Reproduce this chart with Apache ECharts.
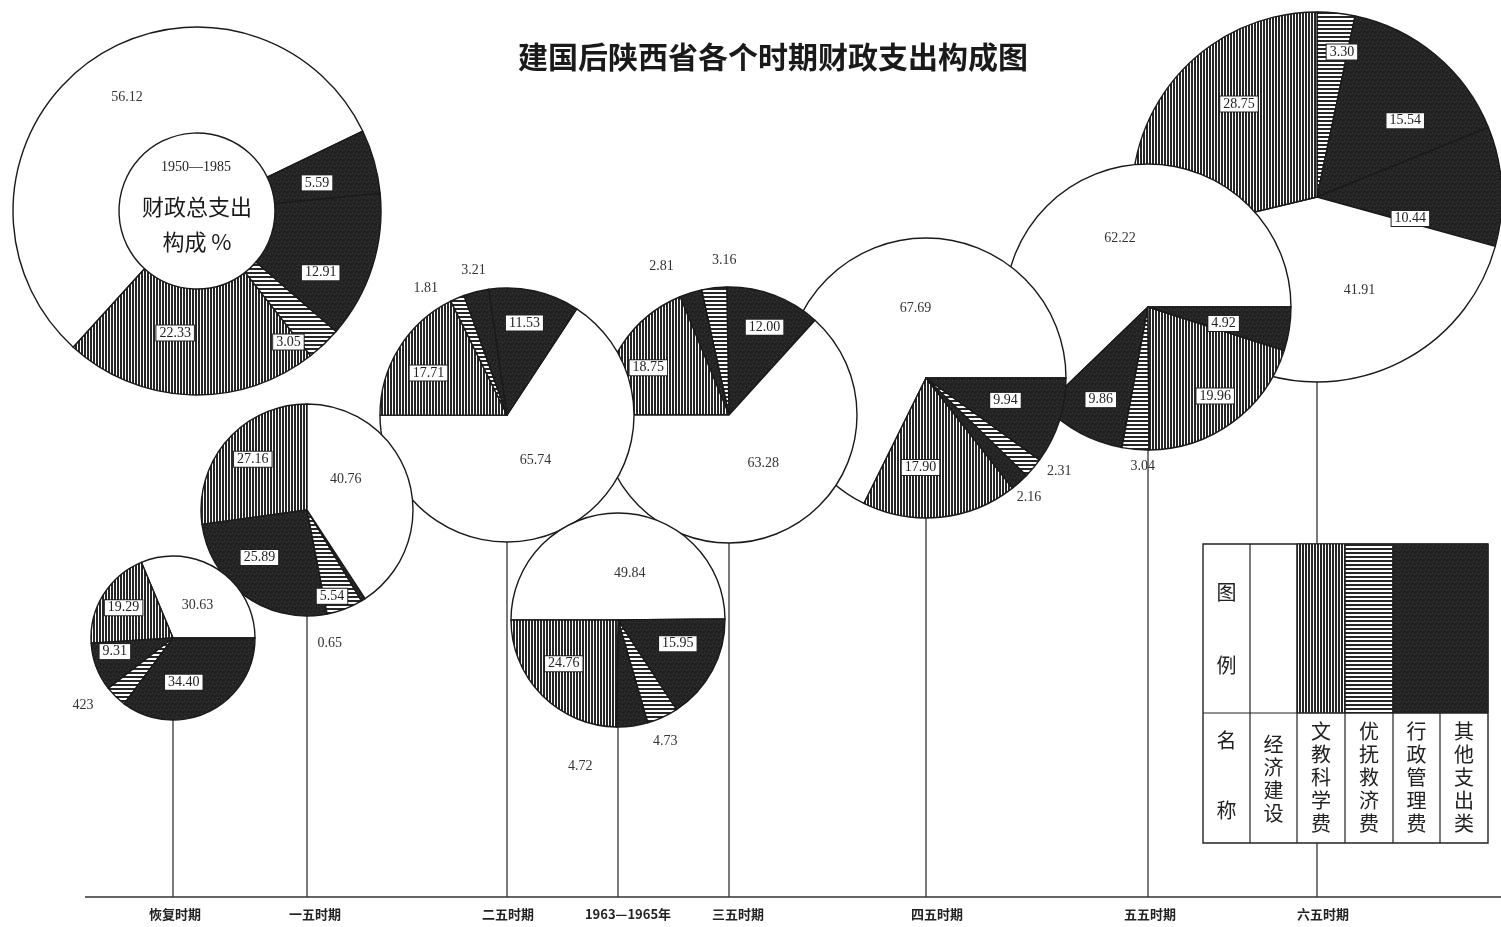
<!DOCTYPE html>
<html>
<head>
<meta charset="utf-8">
<script src="https://cdn.jsdelivr.net/npm/echarts@6/dist/echarts.min.js"></script>
<style>
html,body{margin:0;padding:0;background:#fff;}
#chart{width:1501px;height:927px;}
</style>
</head>
<body>
<div id="chart"></div>
<script>
// ---------------- DATA ----------------
const categories = ['经济建设', '文教科学费', '优抚救济费', '行政管理费', '其他支出类'];
const periods = ['恢复时期', '一五时期', '二五时期', '1963—1965年', '三五时期', '四五时期', '五五时期', '六五时期'];
// 1950—1985 total composition (%), in category order
const totalShare = [56.12, 22.33, 3.05, 12.91, 5.59];
// per-period composition (%), one array per category, in period order
const economic = [30.63, 40.76, 65.74, 49.84, 63.28, 67.69, 62.22, 41.91];
const education = [19.29, 27.16, 17.71, 24.76, 18.75, 17.90, 19.96, 28.75];
const relief = [4.23, 5.54, 1.81, 4.73, 3.16, 2.31, 3.04, 3.30];
const administration = [34.40, 25.89, 11.53, 15.95, 12.00, 9.94, 9.86, 15.54];
const otherSpending = [9.31, 0.65, 3.21, 4.72, 2.81, 2.16, 4.92, 10.44];
// label exactly as printed in the source figure
const printedLabel = { '恢复时期|优抚救济费': '423' };

// ---------------- LAYOUT (positions / drawing order / label nudges) ----------------
const pieLayout = {
  '恢复时期':    { c: [173, 638], r: 82,  start: 0,    cw: false, order: [0, 1, 4, 2, 3] },
  '一五时期':    { c: [307, 510], r: 106, start: 90,   cw: false, order: [1, 3, 2, 4, 0] },
  '二五时期':    { c: [507, 415], r: 127, start: 56.7, cw: true,  order: [0, 1, 2, 4, 3] },
  '1963—1965年': { c: [618, 620], r: 107, start: 180,  cw: true,  order: [0, 3, 2, 4, 1] },
  '三五时期':    { c: [729, 415], r: 128, start: 47.8, cw: false, order: [3, 2, 4, 1, 0] },
  '四五时期':    { c: [926, 378], r: 140, start: 0,    cw: false, order: [0, 1, 4, 2, 3] },
  '五五时期':    { c: [1148, 307], r: 143, start: 0,   cw: false, order: [0, 3, 2, 1, 4] },
  '六五时期':    { c: [1317, 197], r: 185, start: 90,  cw: true,  order: [2, 3, 4, 0, 1] }
};
// label nudges [dx, dy] by category index
const labelNudge = {
  '恢复时期':    { 0: [0, 4], 1: [-12, -7], 2: [-13, 4], 3: [-9, 5], 4: [-17, -2] },
  '一五时期':    { 0: [-15, -15], 1: [-12, -14], 2: [5, 34], 3: [-15, 2], 4: [-54, 38] },
  '二五时期':    { 0: [-3, -13], 1: [-22, -7], 2: [-12, -4], 3: [3, -27], 4: [16, -16] },
  '1963—1965年': { 0: [12, 10], 1: [-14, 4], 2: [-17, 19], 3: [10, -3], 4: [-70, 34] },
  '三五时期':    { 0: [7, -13], 1: [-25, -10], 2: [28, -22], 3: [12, -25], 4: [-10, -21] },
  '四五时期':    { 0: [28, -8], 1: [-13, 17], 2: [4, 0], 3: [10, 0], 4: [-12, 11] },
  '五五时期':    { 0: [0, 0], 1: [23, 29], 2: [25, 11], 3: [-12, 27], 4: [2, 5] },
  '六五时期':    { 0: [44, -2], 1: [-3, -34], 2: [15, -50], 3: [27, -3], 4: [-2, 27] },
  total:         { 0: [10, -6], 1: [-17, -12], 2: [-1, 34], 3: [-4, 21], 4: [-9, 8] }
};
const periodLabelX = { '恢复时期': 175, '一五时期': 315, '二五时期': 508, '1963—1965年': 628, '三五时期': 738, '四五时期': 937, '五五时期': 1150, '六五时期': 1323 };
const baselineY = 897;
// stacking order, bottom first
const drawOrder = ['六五时期', '五五时期', '四五时期', '三五时期', '二五时期', '1963—1965年', '一五时期', '恢复时期'];

// ---------------- FILL PATTERNS ----------------
function makeCanvas(w, h, fn) {
  const c = document.createElement('canvas');
  c.width = w; c.height = h;
  const ctx = c.getContext('2d');
  fn(ctx);
  return c;
}
const vertHatch = makeCanvas(3, 3, ctx => {
  ctx.fillStyle = '#fff'; ctx.fillRect(0, 0, 3, 3);
  ctx.fillStyle = '#262626'; ctx.fillRect(0, 0, 2, 3);
});
const horzHatch = makeCanvas(4, 4, ctx => {
  ctx.fillStyle = '#fff'; ctx.fillRect(0, 0, 4, 4);
  ctx.fillStyle = '#262626'; ctx.fillRect(0, 0, 4, 2);
});
const darkTex = makeCanvas(8, 8, ctx => {
  ctx.fillStyle = '#242424'; ctx.fillRect(0, 0, 8, 8);
  ctx.fillStyle = '#3a3a3a';
  [[1, 1], [5, 2], [3, 5], [6, 6], [0, 4]].forEach(p => ctx.fillRect(p[0], p[1], 1, 1));
  ctx.fillStyle = '#1a1a1a';
  [[2, 3], [7, 0], [4, 7]].forEach(p => ctx.fillRect(p[0], p[1], 1, 1));
});
const fills = [
  '#ffffff',
  { image: vertHatch, repeat: 'repeat' },
  { image: horzHatch, repeat: 'repeat' },
  { image: darkTex, repeat: 'repeat' },
  { image: darkTex, repeat: 'repeat' }
];

const numFont = '"Liberation Serif", "DejaVu Serif", serif';
const cjkFont = '"Noto Sans CJK SC", sans-serif';

function fmt(v) { return v.toFixed(2); }

function labelFor(catIdx, value, sum, rInner, rOuter, period) {
  const text = (period && printedLabel[period + '|' + categories[catIdx]]) || fmt(value);
  const arc = (value / sum) * 2 * Math.PI * (rInner + rOuter) / 2;
  if (catIdx === 0) {
    return { show: true, position: 'inside', formatter: text, color: '#333', fontSize: 14, fontFamily: numFont };
  }
  if (arc >= 17) {
    return {
      show: true, position: 'inside', formatter: text, color: '#222', fontSize: 14, fontFamily: numFont,
      backgroundColor: '#fff', borderColor: '#222', borderWidth: 1, padding: [1, 3, 0, 3]
    };
  }
  return { show: true, position: 'outside', formatter: text, color: '#333', fontSize: 14, fontFamily: numFont };
}

function nudgeLayout(key, order) {
  return function (params) {
    const ci = order[params.dataIndex];
    const n = (labelNudge[key] && labelNudge[key][ci]) || [0, 0];
    return { dx: n[0], dy: n[1], hideOverlap: false, moveOverlap: null };
  };
}

const valuesByPeriod = periods.map((p, i) => [economic[i], education[i], relief[i], administration[i], otherSpending[i]]);

const series = [];
drawOrder.forEach(p => {
  const pi = periods.indexOf(p);
  const vals = valuesByPeriod[pi];
  const L = pieLayout[p];
  const sum = vals.reduce((a, b) => a + b, 0);
  series.push({
    type: 'pie',
    name: p,
    center: L.c,
    radius: [0, L.r],
    startAngle: L.start,
    clockwise: L.cw,
    avoidLabelOverlap: false,
    silent: true,
    animation: false,
    itemStyle: { borderColor: '#1a1a1a', borderWidth: 1.4 },
    labelLine: { show: false, length: 6, length2: 0 },
    labelLayout: nudgeLayout(p, L.order),
    emphasis: { disabled: true },
    data: L.order.map(ci => ({
      name: categories[ci],
      value: vals[ci],
      itemStyle: { color: fills[ci] },
      label: labelFor(ci, vals[ci], sum, 0, L.r, p)
    }))
  });
});

// big total donut
const totalLayout = { c: [197, 211], r: [78, 184], start: 25.7, cw: false, order: [0, 1, 2, 3, 4] };
const totalSum = totalShare.reduce((a, b) => a + b, 0);
series.push({
  type: 'pie',
  name: '1950—1985',
  center: totalLayout.c,
  radius: totalLayout.r,
  startAngle: totalLayout.start,
  clockwise: totalLayout.cw,
  avoidLabelOverlap: false,
  silent: true,
  animation: false,
  itemStyle: { borderColor: '#1a1a1a', borderWidth: 1.4 },
  labelLine: { show: false },
  labelLayout: nudgeLayout('total', totalLayout.order),
  emphasis: { disabled: true },
  data: totalLayout.order.map(ci => ({
    name: categories[ci],
    value: totalShare[ci],
    itemStyle: { color: fills[ci] },
    label: labelFor(ci, totalShare[ci], totalSum, totalLayout.r[0], totalLayout.r[1], null)
  }))
});

// ---------------- DECORATION (title, stems, baseline, legend table) ----------------
const graphics = [];
graphics.push({
  type: 'text', x: 773, y: 57, z: 5,
  style: { text: '建国后陕西省各个时期财政支出构成图', font: 'bold 30px ' + cjkFont, fill: '#1a1a1a', align: 'center', verticalAlign: 'middle' }
});
// inner text of the donut
graphics.push({ type: 'text', x: 196, y: 167, z: 50, style: { text: '1950—1985', font: '14px ' + numFont, fill: '#222', align: 'center', verticalAlign: 'middle' } });
graphics.push({ type: 'text', x: 197, y: 207, z: 50, style: { text: '财政总支出', font: '22px ' + cjkFont, fill: '#1a1a1a', align: 'center', verticalAlign: 'middle' } });
graphics.push({ type: 'text', x: 197, y: 242, z: 50, style: { text: '构成 %', font: '22px ' + cjkFont, fill: '#1a1a1a', align: 'center', verticalAlign: 'middle' } });

// baseline
graphics.push({ type: 'line', z: 0, shape: { x1: 85, y1: baselineY, x2: 1501, y2: baselineY }, style: { stroke: '#333', lineWidth: 1.6 } });
periods.forEach(p => {
  const L = pieLayout[p];
  graphics.push({ type: 'line', z: 0, shape: { x1: L.c[0], y1: L.c[1], x2: L.c[0], y2: baselineY }, style: { stroke: '#333', lineWidth: 1.3 } });
  graphics.push({ type: 'text', x: periodLabelX[p], y: 914, z: 5, style: { text: p, font: 'bold 13px ' + cjkFont, fill: '#222', align: 'center', verticalAlign: 'middle' } });
});

// legend table
const tbl = { x0: 1203, y0: 544, y1: 713, y2: 843, cols: [1203, 1250, 1297, 1345, 1393, 1440, 1488] };
const legendChildren = [];
legendChildren.push({ type: 'rect', shape: { x: tbl.x0, y: tbl.y0, width: tbl.cols[6] - tbl.x0, height: tbl.y2 - tbl.y0 }, style: { fill: '#fff', stroke: '#222', lineWidth: 1.4 } });
legendChildren.push({ type: 'rect', shape: { x: tbl.cols[2], y: tbl.y0, width: tbl.cols[3] - tbl.cols[2], height: tbl.y1 - tbl.y0 }, style: { fill: fills[1], stroke: '#222', lineWidth: 1 } });
legendChildren.push({ type: 'rect', shape: { x: tbl.cols[3], y: tbl.y0, width: tbl.cols[4] - tbl.cols[3], height: tbl.y1 - tbl.y0 }, style: { fill: fills[2], stroke: '#222', lineWidth: 1 } });
legendChildren.push({ type: 'rect', shape: { x: tbl.cols[4], y: tbl.y0, width: tbl.cols[6] - tbl.cols[4], height: tbl.y1 - tbl.y0 }, style: { fill: fills[3], stroke: '#222', lineWidth: 1 } });
legendChildren.push({ type: 'line', shape: { x1: tbl.x0, y1: tbl.y1, x2: tbl.cols[6], y2: tbl.y1 }, style: { stroke: '#222', lineWidth: 1.2 } });
for (let k = 1; k <= 5; k++) {
  const top = (k === 5) ? tbl.y1 : tbl.y0;
  legendChildren.push({ type: 'line', shape: { x1: tbl.cols[k], y1: top, x2: tbl.cols[k], y2: tbl.y2 }, style: { stroke: '#222', lineWidth: 1.2 } });
}
const headFont = '20px ' + cjkFont;
[['图', 592], ['例', 665], ['名', 740], ['称', 810]].forEach(t => {
  legendChildren.push({ type: 'text', x: (tbl.cols[0] + tbl.cols[1]) / 2, y: t[1], style: { text: t[0], font: headFont, fill: '#222', align: 'center', verticalAlign: 'middle' } });
});
categories.forEach((name, i) => {
  const cx = (tbl.cols[i + 1] + tbl.cols[i + 2]) / 2;
  const chars = name.split('').join('\n');
  const isShort = name.length === 4;
  legendChildren.push({
    type: 'text', x: cx, y: isShort ? 733 : 720,
    style: { text: chars, font: headFont, lineHeight: 23, fill: '#222', align: 'center', verticalAlign: 'top' }
  });
});
graphics.push({ type: 'group', z: 100, children: legendChildren });

const chart = echarts.init(document.getElementById('chart'), null, { renderer: 'canvas' });
chart.setOption({
  backgroundColor: '#ffffff',
  animation: false,
  series: series,
  graphic: graphics
});
</script>
</body>
</html>
